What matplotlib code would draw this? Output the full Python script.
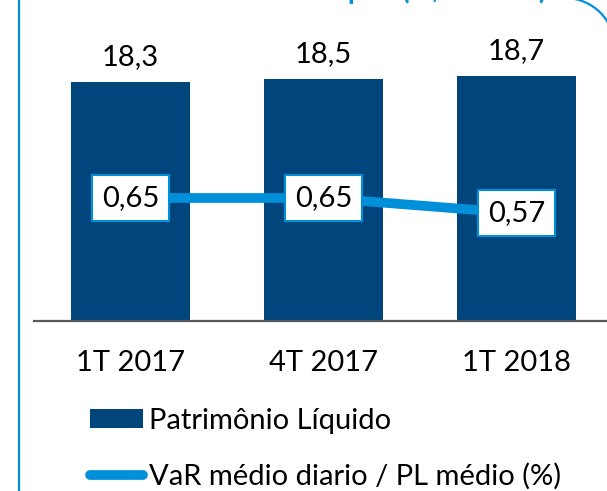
import matplotlib
matplotlib.use("Agg")
import matplotlib.pyplot as plt
from matplotlib.patches import Arc, Patch
from matplotlib.lines import Line2D

plt.rcParams['font.family'] = ['Lato', 'DejaVu Sans']

categorias = ["1T 2017", "4T 2017", "1T 2018"]
pl_valores = [18.3, 18.5, 18.7]
var_valores = [0.65, 0.65, 0.57]
pl_rotulos = ["18,3", "18,5", "18,7"]
var_rotulos = ["0,65", "0,65", "0,57"]

azul_escuro = "#00457c"
azul_claro = "#0090da"
fs = 21

W, H = 607, 491
fig = plt.figure(figsize=(W / 100, H / 100), dpi=100)

# eixo principal: de x=34 a 613 px, base em y=321 px
ax = fig.add_axes([34 / W, (H - 321) / H, 579 / W, 321 / H])
x = range(len(categorias))
ax.bar(x, pl_valores, width=0.62, color=azul_escuro, zorder=2)
ax.set_xlim(-0.5, 2.5)
ax.set_ylim(0, 24.55)
for xi, v, r in zip(x, pl_valores, pl_rotulos):
    ax.annotate(r, (xi, v), xytext=(0, 18), textcoords="offset points",
                ha="center", va="center", fontsize=fs, color="black")

for s in ["top", "right", "left"]:
    ax.spines[s].set_visible(False)
ax.spines["bottom"].set_color("#595959")
ax.spines["bottom"].set_linewidth(1.6)
ax.set_yticks([])
ax.set_xticks(list(x))
ax.set_xticklabels(categorias, fontsize=fs)
ax.tick_params(axis="x", length=0, pad=21)

# eixo secundário para o VaR
ax2 = ax.twinx()
ax2.set_ylim(0, 1.696)
ax2.plot(x, var_valores, color=azul_claro, linewidth=7, zorder=3)
for xi, v, r in zip(x, var_valores, var_rotulos):
    ax2.text(xi, v, r, ha="center", va="center", fontsize=fs, zorder=4,
             bbox=dict(boxstyle="square,pad=0.33", facecolor="white",
                       edgecolor=azul_claro, linewidth=1.5))
ax2.set_yticks([])
for s in ax2.spines.values():
    s.set_visible(False)

# legenda
handles = [Patch(facecolor=azul_escuro, edgecolor="none"),
           Line2D([0], [0], color=azul_claro, linewidth=7, solid_capstyle="round")]
labels = ["Patrimônio Líquido", "VaR médio diario / PL médio (%)"]
fig.legend(handles, labels, loc="upper left", bbox_to_anchor=(90 / W, 1 - 408 / H),
           frameon=False, fontsize=fs, handlelength=1.8, handleheight=0.62,
           handletextpad=0.22, borderpad=0, borderaxespad=0, labelspacing=1.0)

# moldura do slide
fig.add_artist(Line2D([18.5 / W, 18.5 / W], [0, 1], color=azul_claro, linewidth=1.6,
                      transform=fig.transFigure))
fig.add_artist(Arc((565 / W, 1 - 48 / H), 100 / W, 100 / H, theta1=0, theta2=90,
                   color=azul_claro, linewidth=1.6, transform=fig.transFigure))
fig.text(547 / W, 1 + 1 / H, "Carteira Própria (R$ bilhões)", ha="right", va="baseline",
         fontsize=20, fontweight="bold", color=azul_claro)

fig.savefig("out.png", dpi=100)
